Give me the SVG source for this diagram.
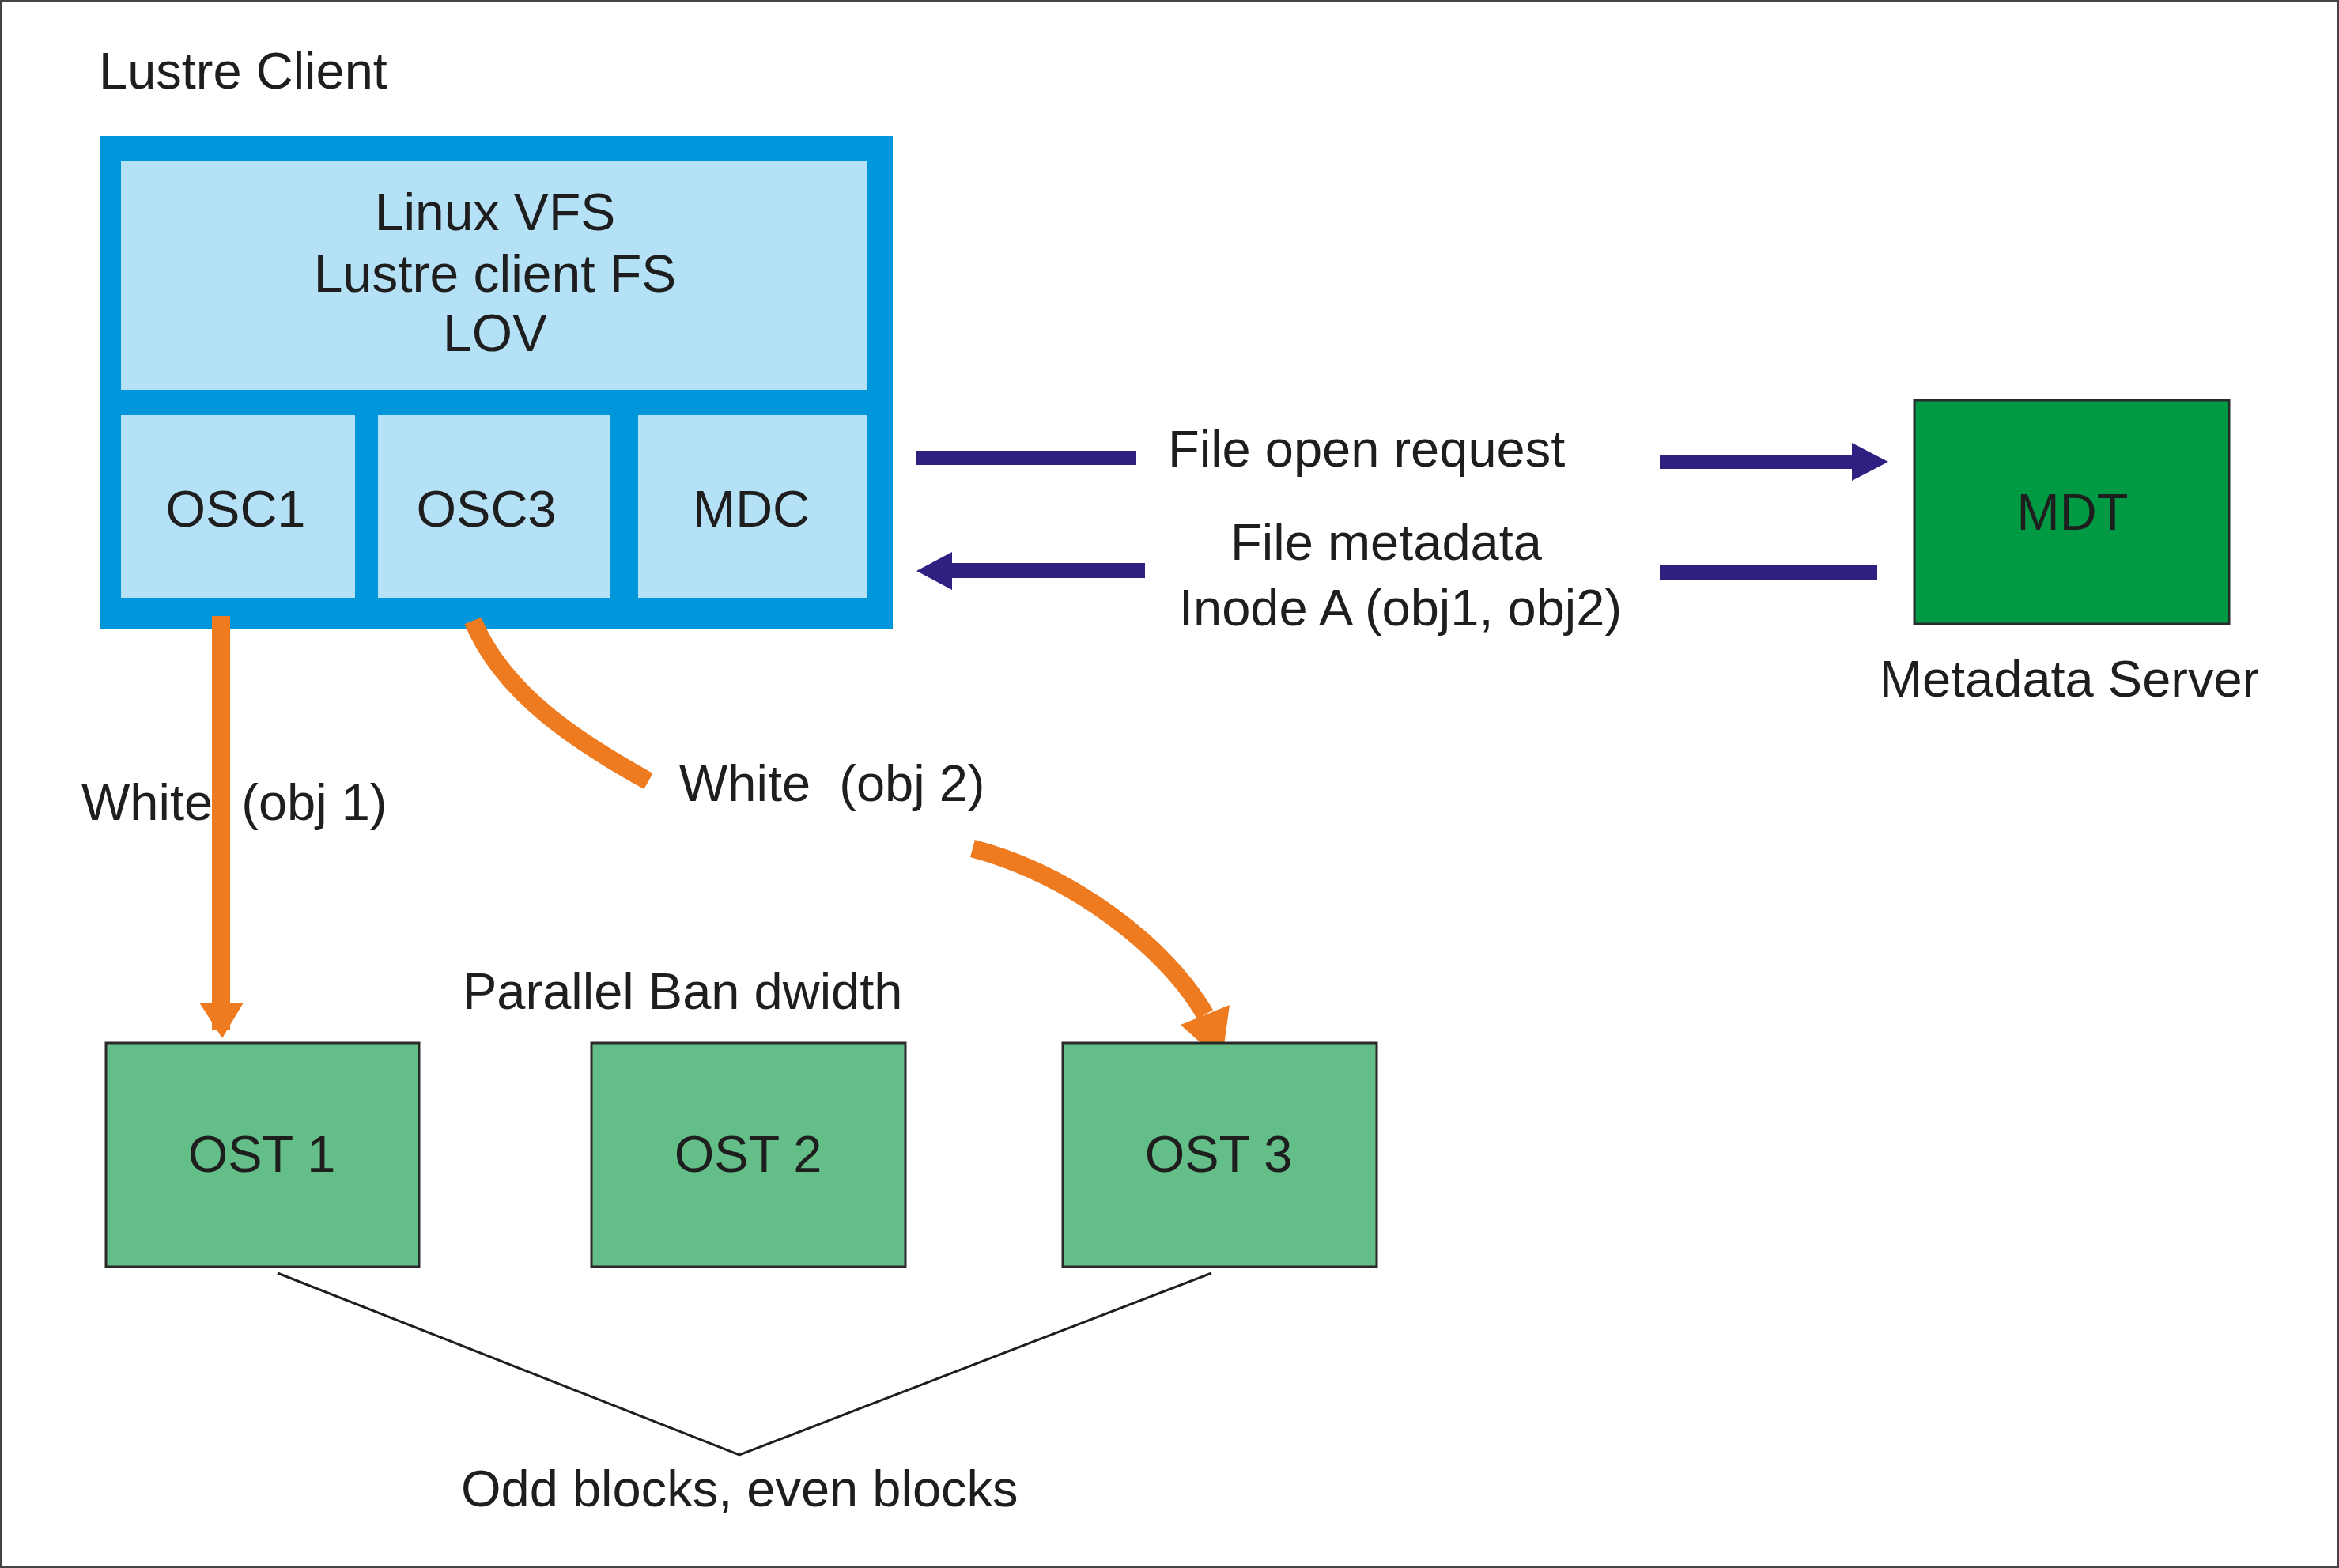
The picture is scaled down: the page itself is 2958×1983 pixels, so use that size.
<svg xmlns="http://www.w3.org/2000/svg" width="2958" height="1983" viewBox="0 0 2958 1983">
<style>
text{font-family:"Liberation Sans",Arial,Helvetica,sans-serif;font-size:65px;fill:#1e1e1e;white-space:pre}
.c{text-anchor:middle}
.panel{fill:#B4E1F5}
.ost{fill:#64BE87;stroke:#2a2a2a;stroke-width:3}
.navy{fill:#2D2080}
.org{fill:#EE7B1F}
.orgs{fill:none;stroke:#EE7B1F;stroke-width:23}
</style>
<rect x="1.5" y="1.5" width="2955" height="1980" fill="#ffffff" stroke="#444444" stroke-width="3"/>
<text x="125" y="112">Lustre Client</text>
<g id="lustre-client">
<rect x="126" y="172" width="1003" height="623" fill="#0096DC"/>
<g id="vfs">
<rect class="panel" x="153" y="204" width="943" height="289"/>
<text class="c" x="626" y="291" style="font-size:66px">Linux VFS</text>
<text class="c" x="626" y="369" style="font-size:66px">Lustre client FS</text>
<text class="c" x="626" y="444" style="font-size:66px">LOV</text>
</g>
<g id="osc1">
<rect class="panel" x="153" y="525" width="296" height="231"/>
<text class="c" x="298" y="666">OSC1</text>
</g>
<g id="osc3">
<rect class="panel" x="478" y="525" width="293" height="231"/>
<text class="c" x="615" y="666">OSC3</text>
</g>
<g id="mdc">
<rect class="panel" x="807" y="525" width="289" height="231"/>
<text class="c" x="950" y="666">MDC</text>
</g>
</g>
<g id="mdt">
<rect x="2421" y="506" width="398" height="283" fill="#009A44" stroke="#2a2a2a" stroke-width="3"/>
<text class="c" x="2621" y="670">MDT</text>
</g>
<text class="c" x="2617" y="881">Metadata Server</text>
<g id="connectors">
<rect class="navy" x="1159" y="570" width="278" height="18"/>
<polygon class="navy" points="2099,575 2342,575 2342,560 2388,584 2342,608 2342,593 2099,593"/>
<polygon class="navy" points="1448,712 1204,712 1204,698 1159,722 1204,746 1204,731 1448,731"/>
<rect class="navy" x="2099" y="715" width="275" height="18"/>
<rect class="org" x="268" y="779" width="23" height="523"/>
<polygon class="org" points="252,1268 308,1268 281,1313"/>
<path class="orgs" d="M 598 785 C 636 877.5, 732.5 939.5, 820 988"/>
<path class="orgs" d="M 1230 1073 C 1355.6 1106.7, 1474 1196.4, 1524 1283"/>
<polygon class="org" points="1493,1296 1555,1271 1545,1343"/>
<polyline points="351,1610 935,1840 1532,1610" fill="none" stroke="#1e1e1e" stroke-width="3"/>
</g>
<text x="1477" y="590">File open request</text>
<text class="c" x="1753" y="708">File metadata</text>
<text class="c" x="1771" y="791">Inode A (obj1, obj2)</text>
<text x="103" y="1037" xml:space="preserve">White  (obj 1)</text>
<text x="859" y="1013" xml:space="preserve">White  (obj 2)</text>
<text x="585" y="1276">Parallel Ban dwidth</text>
<g id="ost1">
<rect class="ost" x="134" y="1319" width="396" height="283"/>
<text class="c" x="331" y="1482">OST 1</text>
</g>
<g id="ost2">
<rect class="ost" x="748" y="1319" width="397" height="283"/>
<text class="c" x="946" y="1482">OST 2</text>
</g>
<g id="ost3">
<rect class="ost" x="1344" y="1319" width="397" height="283"/>
<text class="c" x="1541" y="1482">OST 3</text>
</g>
<text x="583" y="1905">Odd blocks, even blocks</text>
</svg>
